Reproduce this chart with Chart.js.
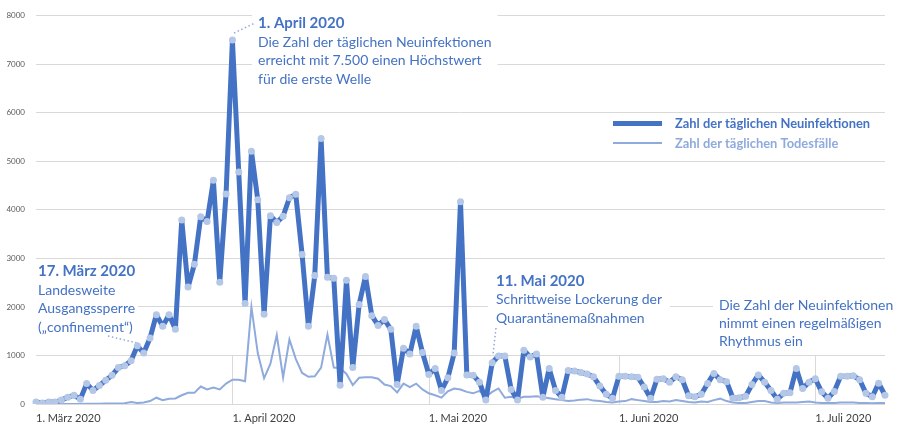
<!DOCTYPE html>
<html lang="de">
<head>
<meta charset="utf-8">
<title>Neuinfektionen und Todesfälle 2020</title>
<script src="https://cdn.jsdelivr.net/npm/chart.js@4.4.1/dist/chart.umd.min.js"></script>
<style>
  html, body { margin: 0; padding: 0; background: #fff; }
  #wrap { width: 899px; height: 427px; }
</style>
</head>
<body>
<div id="wrap"><canvas id="chart-covid" width="899" height="427"></canvas></div>
<script>
// Tageswerte ab 1. März 2020 (ein Wert pro Tag)
const startDatum = '2020-03-01';

const neuinfektionen = [
    40, 20, 40, 40, 80, 140, 180, 100, 420, 280,
    380, 490, 590, 750, 790, 890, 1200, 1050, 1360, 1840,
    1600, 1840, 1540, 3790, 2410, 2880, 3860, 3760, 4610, 2510,
    4330, 7500, 4780, 2070, 5210, 4210, 1850, 3880, 3740, 3870,
    4250, 4320, 3080, 1600, 2650, 5470, 2610, 2590, 385, 2550,
    750, 2050, 2630, 1820, 1620, 1740, 1540, 400, 1150, 1030,
    1600, 1060, 610, 730, 280, 540, 1050, 4170, 600, 590,
    450, 80, 850, 990, 990, 300, 80, 1110, 970, 1030,
    140, 730, 280, 140, 690, 680, 650, 620, 560, 370,
    200, 120, 570, 570, 560, 550, 350, 120, 510, 520,
    450, 560, 500, 170, 150, 200, 420, 630, 500, 460,
    120, 130, 160, 400, 600, 450, 280, 100, 220, 230,
    730, 320, 450, 520, 250, 120, 260, 570, 570, 580,
    500, 220, 150, 430, 180
];

const todesfaelle = [
    0, 0, 0, 0, 0, 1, 1, 2, 3, 5,
    3, 10, 8, 10, 15, 40, 20, 30, 60, 130,
    80, 110, 115, 180, 230, 230, 360, 300, 340, 300,
    420, 500, 500, 470, 2000, 1050, 530, 830, 1420, 550,
    1330, 930, 640, 560, 570, 750, 1430, 750, 740, 620,
    390, 540, 550, 550, 520, 400, 370, 240, 420, 350,
    420, 300, 220, 180, 130, 260, 320, 300, 250, 220,
    270, 150, 250, 320, 130, 150, 110, 150, 150, 160,
    140, 120, 100, 80, 60, 70, 90, 100, 70, 60,
    40, 30, 50, 60, 100, 80, 60, 40, 40, 60,
    50, 80, 60, 40, 30, 50, 40, 80, 110, 60,
    30, 20, 20, 40, 60, 60, 30, 20, 30, 30,
    30, 40, 50, 30, 20, 20, 20, 30, 30, 30,
    20, 20, 15, 20, 20
];

// Achsenbeschriftung: Position (Index) der Monatsanfänge wie im Original
const monatsTage = [0, 31, 62, 92, 123];
const monatsLabels = ['1. März 2020', '1. April 2020', '1. Mai 2020', '1. Juni 2020', '1. Juli 2020'];
const yMax = 8000;
const yStep = 1000;

const serienNamen = ['Zahl der täglichen Neuinfektionen', 'Zahl der täglichen Todesfälle'];

// Anmerkungen im Diagramm
const anmerkungApril = ['1. April 2020', 'Die Zahl der täglichen Neuinfektionen', 'erreicht mit 7.500 einen Höchstwert', 'für die erste Welle'];
const anmerkungMaerz = ['17. März 2020', 'Landesweite', 'Ausgangssperre', '(„confinement“)'];
const anmerkungMai = ['11. Mai 2020', 'Schrittweise Lockerung der', 'Quarantänemaßnahmen'];
const anmerkungRhythmus = ['Die Zahl der Neuinfektionen', 'nimmt einen regelmäßigen', 'Rhythmus ein'];

// Farben
const COLORS = {
    primary: '#4472C4',
    light: '#8FAADC',
    marker: '#B4C7E7',
    grid: '#D9D9D9',
    tick: '#595959',
    axisText: '#404040'
};

const FONT = 'Lato, "Open Sans", sans-serif';

// Kategorien (Datum je Tag)
const tage = neuinfektionen.map((_, i) => {
    const d = new Date(startDatum + 'T00:00:00');
    d.setDate(d.getDate() + i);
    return d.toISOString().slice(0, 10);
});

/**
 * Textblock mit weißem Hintergrund zeichnen
 */
function drawBlock(ctx, x, y, lines, opts) {
    const lh = opts.lineHeight || 18.5;
    let w = 0;
    lines.forEach((t, i) => {
        ctx.font = (i === 0 && opts.boldFirst) ? opts.titleFont : opts.bodyFont;
        w = Math.max(w, ctx.measureText(t).width);
    });
    const pad = opts.pad || 6;
    ctx.fillStyle = '#fff';
    ctx.fillRect(x - pad, y - lh / 2 - 2, w + pad * 2, lh * lines.length + 4);

    ctx.textAlign = 'left';
    ctx.textBaseline = 'middle';
    ctx.fillStyle = COLORS.primary;
    lines.forEach((t, i) => {
        ctx.font = (i === 0 && opts.boldFirst) ? opts.titleFont : opts.bodyFont;
        ctx.fillText(t, x, y + i * lh);
    });
}

function dotted(ctx, x1, y1, x2, y2) {
    ctx.save();
    ctx.strokeStyle = COLORS.light;
    ctx.lineWidth = 1.5;
    ctx.setLineDash([1.5, 2.5]);
    ctx.beginPath();
    ctx.moveTo(x1, y1);
    ctx.lineTo(x2, y2);
    ctx.stroke();
    ctx.restore();
}

const anmerkungenPlugin = {
    id: 'anmerkungen',
    beforeDatasetsDraw(chart) {
        const ctx = chart.ctx;
        const { x, y } = chart.scales;
        const titleFont = 'bold 15px ' + FONT;
        const bodyFont = '14px ' + FONT;
        ctx.save();

        // kurze senkrechte Hilfslinien an den Monatsanfängen
        ctx.strokeStyle = COLORS.grid;
        ctx.lineWidth = 1;
        monatsTage.slice(1).forEach(idx => {
            const px = Math.round(x.getPixelForValue(idx)) + 0.5;
            ctx.beginPath();
            ctx.moveTo(px, y.getPixelForValue(0));
            ctx.lineTo(px, y.getPixelForValue(1000));
            ctx.stroke();
        });

        drawBlock(ctx, 258, 23.5, anmerkungApril, { boldFirst: true, titleFont, bodyFont });
        drawBlock(ctx, 38, 271.5, anmerkungMaerz, { boldFirst: true, titleFont, bodyFont, pad: 3 });
        drawBlock(ctx, 496, 281, anmerkungMai, { boldFirst: true, titleFont, bodyFont, pad: 8 });
        drawBlock(ctx, 719, 305, anmerkungRhythmus, { boldFirst: false, titleFont, bodyFont, pad: 6, lineHeight: 18 });

        // Verbindungslinien
        dotted(ctx, 234, 33, 255, 23);
        dotted(ctx, 108, 336, 137, 343);
        dotted(ctx, 496, 328, 493, 354);

        // Legende
        ctx.lineCap = 'butt';
        ctx.strokeStyle = COLORS.primary;
        ctx.lineWidth = 5;
        ctx.beginPath();
        ctx.moveTo(613, 123.5);
        ctx.lineTo(662, 123.5);
        ctx.stroke();
        ctx.strokeStyle = COLORS.light;
        ctx.lineWidth = 2;
        ctx.beginPath();
        ctx.moveTo(613, 143);
        ctx.lineTo(662, 143);
        ctx.stroke();

        ctx.font = 'bold 12.9px ' + FONT;
        ctx.textAlign = 'left';
        ctx.textBaseline = 'middle';
        ctx.fillStyle = COLORS.primary;
        ctx.fillText(serienNamen[0], 675, 124);
        ctx.fillStyle = COLORS.light;
        ctx.fillText(serienNamen[1], 675, 143.5);

        ctx.restore();
    }
};

const chartCovid = new Chart(document.getElementById('chart-covid'), {
    type: 'line',
    data: {
        labels: tage,
        datasets: [{
            label: serienNamen[0],
            data: neuinfektionen,
            borderColor: COLORS.primary,
            borderWidth: 5,
            borderJoinStyle: 'round',
            pointRadius: 3.5,
            pointBackgroundColor: COLORS.marker,
            pointBorderWidth: 0,
            tension: 0
        }, {
            label: serienNamen[1],
            data: todesfaelle,
            borderColor: COLORS.light,
            borderWidth: 2,
            pointRadius: 0,
            tension: 0
        }]
    },
    options: {
        responsive: false,
        animation: false,
        devicePixelRatio: 1,
        layout: { padding: { top: 9, right: 14, left: 0, bottom: 0 } },
        plugins: {
            legend: { display: false },
            tooltip: { enabled: false }
        },
        scales: {
            x: {
                type: 'category',
                offset: false,
                border: { display: false },
                grid: { display: false, drawTicks: false },
                afterBuildTicks: (axis) => {
                    axis.ticks = axis.ticks.filter(t => monatsTage.includes(t.value));
                },
                ticks: {
                    autoSkip: false,
                    maxRotation: 0,
                    align: 'start',
                    padding: 8,
                    color: COLORS.axisText,
                    font: { family: FONT, size: 11 },
                    callback: (value) => monatsLabels[monatsTage.indexOf(value)]
                },
                afterFit: (s) => { s.height = 23; }
            },
            y: {
                min: 0,
                max: yMax,
                border: { display: false },
                grid: { drawTicks: false, color: COLORS.grid },
                ticks: {
                    stepSize: yStep,
                    padding: 11,
                    color: COLORS.tick,
                    font: { family: FONT, size: 8 },
                    callback: (value) => String(value)
                },
                afterFit: (s) => { s.width = 36; }
            }
        }
    },
    plugins: [anmerkungenPlugin]
});
</script>
</body>
</html>
